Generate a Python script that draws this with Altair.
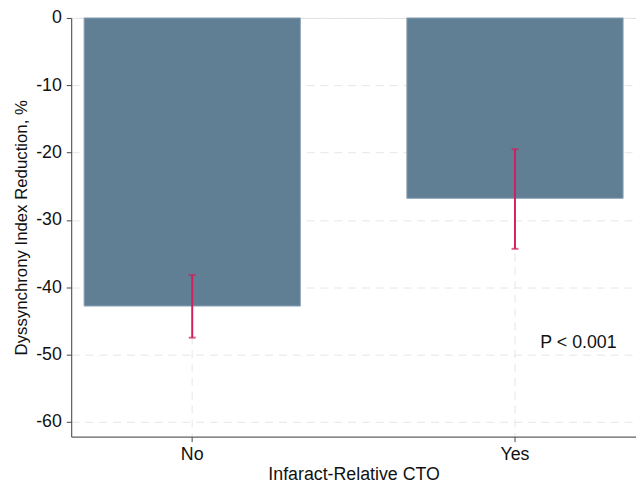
import altair as alt
import pandas as pd

categories = ["No", "Yes"]
means = [-42.8, -26.8]
ci_low = [-47.5, -34.3]
ci_high = [-38.2, -19.5]
annot_text = ["P < 0.001"]
annot_y = [-48.3]

df = pd.DataFrame({"cto": categories, "mean": means, "lo": ci_low, "hi": ci_high})
ann = pd.DataFrame({"cto": ["Yes"], "y": annot_y, "label": annot_text})

FONT = "Liberation Sans"
FS = 18
ydom = [-62.2, 0]

xscale = alt.Scale(paddingInner=0.33, paddingOuter=0.04)
yscale = alt.Scale(domain=ydom, nice=False, zero=False)

xenc = alt.X("cto:N", scale=xscale, sort=categories,
             axis=alt.Axis(title="Infaract-Relative CTO", labelAngle=0,
                           grid=True, gridDash=[8, 6], gridColor="#e6e6e6",
                           bandPosition=0.5, tickBand="center",
                           domainColor="#444444", tickColor="#444444",
                           tickSize=5, labelPadding=4, titlePadding=2,
                           labelFontSize=FS, titleFontSize=FS,
                           labelFont=FONT, titleFont=FONT,
                           labelColor="#111111", titleColor="#111111",
                           titleFontWeight="normal"))

bars = alt.Chart(df).mark_bar(color="#607f95", stroke="#8aa3b5", strokeWidth=1).encode(
    x=xenc,
    y=alt.Y("mean:Q", scale=yscale,
            axis=alt.Axis(title="Dyssynchrony Index Reduction, %",
                          values=[0, -10, -20, -30, -40, -50, -60],
                          labelExpr="'' + datum.value",
                          grid=True, gridDash=[8, 6], gridColor="#e6e6e6",
                          domainColor="#444444", tickColor="#444444",
                          tickSize=5, labelPadding=5, titlePadding=5,
                          labelFontSize=FS, titleFontSize=17,
                          labelFont=FONT, titleFont=FONT,
                          labelColor="#111111", titleColor="#111111",
                          titleFontWeight="normal")),
    y2=alt.datum(0),
)

err = alt.Chart(df).mark_rule(color="#d1205d", strokeWidth=2).encode(
    x=alt.X("cto:N", scale=xscale, sort=categories, bandPosition=0.5),
    y=alt.Y("lo:Q", scale=yscale),
    y2="hi:Q",
)
cap_lo = alt.Chart(df).mark_tick(color="#d1205d", thickness=2, size=7, orient="horizontal").encode(
    x=alt.X("cto:N", scale=xscale, sort=categories, bandPosition=0.5),
    y=alt.Y("lo:Q", scale=yscale),
)
cap_hi = alt.Chart(df).mark_tick(color="#d1205d", thickness=2, size=7, orient="horizontal").encode(
    x=alt.X("cto:N", scale=xscale, sort=categories, bandPosition=0.5),
    y=alt.Y("hi:Q", scale=yscale),
)

txt = alt.Chart(ann).mark_text(align="right", baseline="middle", fontSize=FS,
                               font=FONT, color="#111111").encode(
    x=alt.X("cto:N", scale=xscale, sort=categories, bandPosition=0.97),
    y=alt.Y("y:Q", scale=yscale),
    text="label:N",
)

chart = alt.layer(bars, err, cap_lo, cap_hi, txt).properties(
    width=572, height=424,
    padding={"left": 64, "top": 7, "right": 0, "bottom": 52},
    autosize=alt.AutoSizeParams(type="none"),
).configure_view(stroke=None).configure(background="white")

chart.save("out.html", embed_options={"renderer": "svg", "actions": False})
